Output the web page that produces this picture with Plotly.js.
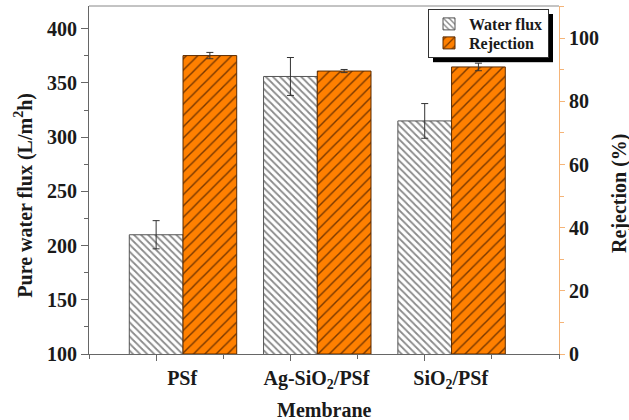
<!DOCTYPE html>
<html><head><meta charset="utf-8">
<script src="https://cdn.plot.ly/plotly-3.0.1.min.js"></script>
<style>html,body{margin:0;padding:0;background:#fff}#c{width:629px;height:420px}</style>
</head><body><div id="c"></div>
<script>
const categories = ['PSf', 'Ag-SiO<sub>2</sub>/PSf', 'SiO<sub>2</sub>/PSf'];
const fluxValues = [210, 356, 315];
const fluxErrors = [13, 17.5, 16];
const rejectionValues = [94.5, 89.6, 90.9];
const rejectionErrors = [1.0, 0.5, 1.2];
const leftTicks = [100, 150, 200, 250, 300, 350, 400];
const rightTicks = [0, 20, 40, 60, 80, 100];
const xTitle = 'Membrane';
const yTitle = 'Pure water flux (L/m<sup>2</sup>h)';
const y2Title = 'Rejection (%)';
const seriesNames = ['Water flux', 'Rejection'];

const xs = categories.map((c, i) => i);
const font = {family: '"Liberation Serif", "Times New Roman", serif', color: '#1a1a1a'};
const f = s => Object.assign({size: s}, font);

const traces = [
  {
    type: 'bar', name: '<b>' + seriesNames[0] + '</b>', x: xs, y: fluxValues, yaxis: 'y',
    offset: -0.2, width: 0.4,
    marker: {color: '#ffffff', line: {color: '#555', width: 1},
      pattern: {shape: '\\', bgcolor: '#ffffff', fgcolor: '#8a8a8a', size: 5, solidity: 0.35}},
    error_y: {type: 'data', array: fluxErrors, visible: true, color: '#333', thickness: 1, width: 3.5}
  },
  {
    type: 'bar', name: '<b>' + seriesNames[1] + '</b>', x: xs, y: rejectionValues, yaxis: 'y2',
    offset: 0.2, width: 0.4,
    marker: {color: '#ff8000', line: {color: '#5a2a00', width: 1},
      pattern: {shape: '/', bgcolor: '#ff8000', fgcolor: '#7a3800', size: 8, solidity: 0.18}},
    error_y: {type: 'data', array: rejectionErrors, visible: true, color: '#333', thickness: 1, width: 3.5}
  }
];

const layout = {
  width: 629, height: 420,
  margin: {l: 89, r: 70, t: 6, b: 66},
  paper_bgcolor: '#fff', plot_bgcolor: '#fff',
  showlegend: true, barmode: 'overlay',
  font: f(18),
  xaxis: {
    range: [-0.5, 3], tickmode: 'array', tickvals: xs,
    ticktext: categories.map(c => '<b>' + c + '</b>'),
    ticklabelshift: 26,
    showline: true, linecolor: '#666', linewidth: 1, mirror: false,
    ticks: 'outside', ticklen: 6, tickcolor: '#666', showgrid: false, zeroline: false,
    minor: {tickmode: 'array', tickvals: [-0.5, 0.5, 1.5, 2.5, 3], ticks: 'outside', ticklen: 4, tickcolor: '#666', showgrid: false},
    tickfont: f(20), automargin: false
  },
  yaxis: {
    range: [100, 421], tickmode: 'array', tickvals: leftTicks,
    ticktext: leftTicks.map(v => '<b>' + v + '</b>'),
    showline: true, linecolor: '#666', linewidth: 1,
    ticks: 'outside', ticklen: 7, tickcolor: '#666', showgrid: false, zeroline: false,
    minor: {dtick: 25, ticks: 'outside', ticklen: 4, tickcolor: '#666', showgrid: false},
    tickfont: f(20), automargin: false
  },
  yaxis2: {
    overlaying: 'y', side: 'right', range: [0, 110.2], tickmode: 'array', tickvals: rightTicks,
    ticktext: rightTicks.map(v => '<b>' + v + '</b>'),
    showline: true, linecolor: '#f5b478', linewidth: 1,
    ticks: 'outside', ticklen: 5, tickcolor: '#f5b478', showgrid: false, zeroline: false,
    minor: {dtick: 10, ticks: 'outside', ticklen: 4, tickcolor: '#f5b478', showgrid: false},
    tickfont: f(20), automargin: false
  },
  annotations: [
    {text: '<b>' + xTitle + '</b>', xref: 'paper', yref: 'paper', x: 0.5, y: -56/348,
     xanchor: 'center', yanchor: 'middle', showarrow: false, font: f(20)},
    {text: '<b>' + yTitle + '</b>', xref: 'paper', yref: 'paper', x: -65/470, y: 0.455,
     xanchor: 'center', yanchor: 'middle', textangle: -90, showarrow: false, font: f(20)},
    {text: '<b>' + y2Title + '</b>', xref: 'paper', yref: 'paper', x: 1 + 61/470, y: 0.46,
     xanchor: 'center', yanchor: 'middle', textangle: -90, showarrow: false, font: f(20)}
  ],
  legend: {
    x: (549 - 89) / 470, xanchor: 'right', y: (354 - 9) / 348, yanchor: 'top',
    xref: 'paper', yref: 'paper',
    bgcolor: '#ffffff', bordercolor: '#333', borderwidth: 1,
    font: f(16),
    tracegroupgap: 0, itemwidth: 30
  },
  shapes: [
    {type: 'line', xref: 'paper', yref: 'paper', x0: 0, x1: 1, y0: 1, y1: 1, line: {color: '#888', width: 1}}
  ]
};

function parseT(t) {
  const m = /translate\(\s*([-\d.e]+)[ ,]+([-\d.e]+)\s*\)/.exec(t || '');
  return m ? [parseFloat(m[1]), parseFloat(m[2])] : [0, 0];
}

Plotly.newPlot('c', traces, layout, {displayModeBar: false, staticPlot: true}).then(function(gd){
  const lg = gd.querySelector('.legend');
  const bg = gd.querySelector('.legend .bg');
  if (!lg || !bg) return;
  // tighten the spacing between the two legend rows
  const items = lg.querySelectorAll('.traces');
  let delta = 0;
  if (items.length === 2) {
    const t0 = parseT(items[0].getAttribute('transform'));
    const t1 = parseT(items[1].getAttribute('transform'));
    const gap = t1[1] - t0[1];
    delta = Math.max(0, gap - 19);
    const up = 3;
    items[0].setAttribute('transform', 'translate(' + t0[0] + ',' + (t0[1] - up) + ')');
    items[1].setAttribute('transform', 'translate(' + t1[0] + ',' + (t1[1] - delta - up) + ')');
    delta += up * 2;
  }
  const w = parseFloat(bg.getAttribute('width'));
  const h = parseFloat(bg.getAttribute('height')) - delta;
  bg.setAttribute('height', h);
  const ns = 'http://www.w3.org/2000/svg';
  const r = document.createElementNS(ns, 'rect');
  r.setAttribute('x', 5); r.setAttribute('y', 5);
  r.setAttribute('width', w); r.setAttribute('height', h);
  r.setAttribute('fill', '#000');
  lg.insertBefore(r, lg.firstChild);
});
</script>
</body></html>
